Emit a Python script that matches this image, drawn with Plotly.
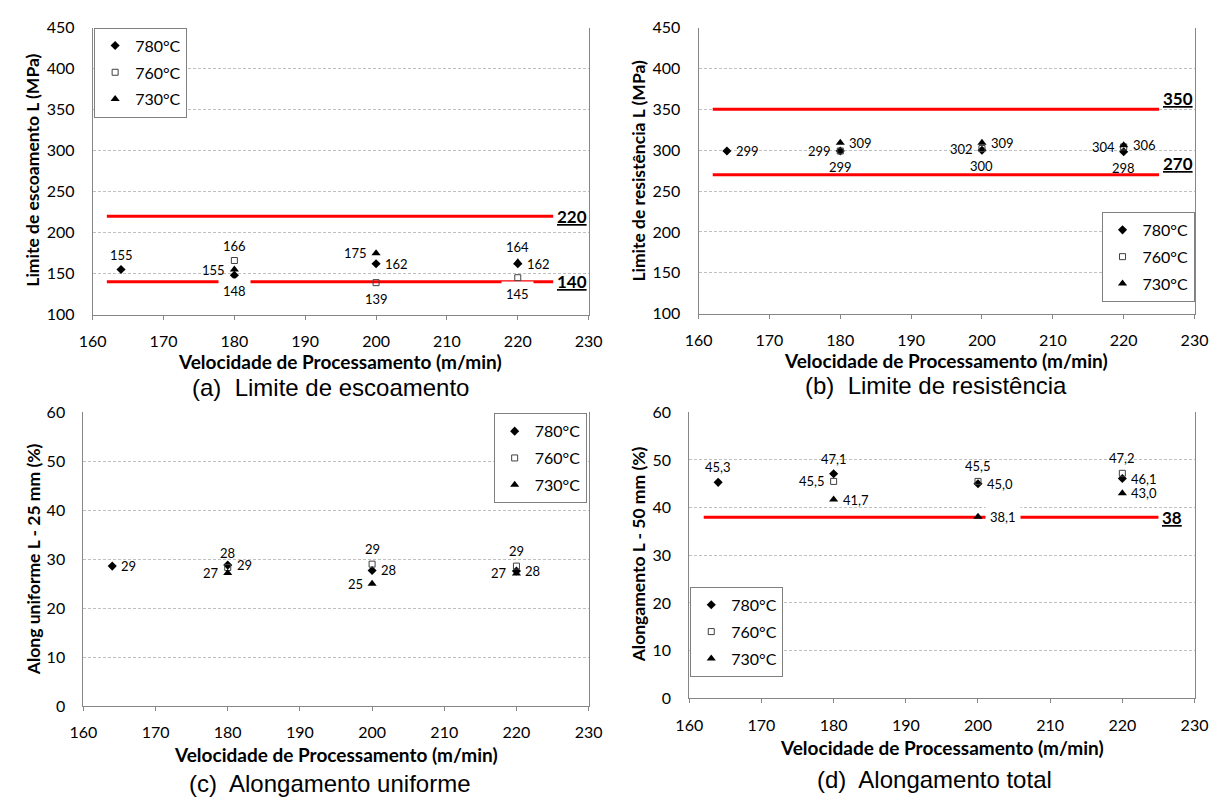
import plotly.graph_objects as go

# ---------------- data ----------------
series_names = ["780°C", "760°C", "730°C"]
speeds_780 = [164, 180, 200, 220]
speeds_others = [180, 200, 220]

# (a) Limite de escoamento (MPa)
le_780 = [155, 148, 162, 162]
le_760 = [166, 139, 145]
le_730 = [155, 175, 164]
le_limits = [220, 140]

# (b) Limite de resistencia (MPa)
lr_780 = [299, 299, 300, 298]
lr_760 = [299, 302, 304]
lr_730 = [309, 309, 306]
lr_limits = [350, 270]

# (c) Alongamento uniforme (%)
au_780 = [28.6, 28.8, 27.7, 27.6]
au_760 = [28.3, 29.0, 28.6]
au_730 = [27.2, 25.0, 27.1]
au_limits = []

# (d) Alongamento total (%)
at_780 = [45.3, 47.1, 45.0, 46.1]
at_760 = [45.5, 45.5, 47.2]
at_730 = [41.7, 38.1, 43.0]
at_limits = [38]

limit_x = [162, 225]
x_ticks = [160, 170, 180, 190, 200, 210, 220, 230]
y_ticks_mpa = [100, 150, 200, 250, 300, 350, 400, 450]
y_ticks_pct = [0, 10, 20, 30, 40, 50, 60]

x_title = "Velocidade de Processamento (m/min)"

# ---------------- styles ----------------
W, H = 1231, 805
FONT = "Lato, 'Open Sans', sans-serif"
CAP_FONT = "'Liberation Sans', Arial, sans-serif"

marker_styles = [
    dict(symbol="diamond", size=7, color="black", line=dict(width=0)),
    dict(symbol="square-open", size=6, color="#404040", line=dict(width=1)),
    dict(symbol="triangle-up", size=8, color="black", line=dict(width=0)),
]


def px_x(p):
    return p / W


def px_y(p):
    return 1 - p / H


def fmt_int(v):
    return f"{v:.0f}"


def fmt_dec(v):
    return f"{v:.1f}".replace(".", ",")


panels = [
    dict(
        id="", series=[le_780, le_760, le_730], fmt=fmt_int,
        limits=le_limits, limit_dy=0,
        xdom=(80.5, 588), ydom=(18, 312), yrange=[100, 450], yticks=y_ticks_mpa,
        ytitle="Limite de escoamento L (MPa)", ytitle_pos=(19, 164),
        xtitle_pos=(334, 360), caption="(a)  Limite de escoamento", cap_pos=(324, 387),
        legend=dict(x=px_x(82), y=px_y(18), xanchor="left", yanchor="top"),
        pos=[["top", "bottom", "right", "right"], ["top", "bottom", "bottom"], ["left", "left", "top"]],
        whitebg=[(0, 1), (1, 2)],
    ),
    dict(
        id="2", series=[lr_780, lr_760, lr_730], fmt=fmt_int,
        limits=lr_limits, limit_dy=11,
        xdom=(700.5, 1208), ydom=(18, 311), yrange=[100, 450], yticks=y_ticks_mpa,
        ytitle="Limite de resistência L (MPa)", ytitle_pos=(639, 164),
        xtitle_pos=(954, 359), caption="(b)  Limite de resistência", cap_pos=(943, 385),
        legend=dict(x=px_x(1208), y=px_y(299), xanchor="right", yanchor="bottom"),
        pos=[["right", "bottom", "bottom", "bottom"], ["left", "left", "left"], ["right", "right", "right"]],
        whitebg=[],
    ),
    dict(
        id="3", series=[au_780, au_760, au_730], fmt=fmt_int,
        limits=au_limits, limit_dy=0,
        xdom=(71, 588), ydom=(412, 713), yrange=[0, 60], yticks=y_ticks_pct,
        ytitle="Along uniforme L - 25 mm (%)", ytitle_pos=(20, 563),
        xtitle_pos=(330, 763), caption="(c)  Alongamento uniforme", cap_pos=(323, 792),
        legend=dict(x=px_x(586), y=px_y(413), xanchor="right", yanchor="top"),
        pos=[["right", "right", "right", "right"], ["top", "top", "top"], ["left", "left", "left"]],
        whitebg=[],
    ),
    dict(
        id="4", series=[at_780, at_760, at_730], fmt=fmt_dec,
        limits=at_limits, limit_dy=0,
        xdom=(691, 1208), ydom=(412, 705), yrange=[0, 60], yticks=y_ticks_pct,
        ytitle="Alongamento L - 50 mm (%)", ytitle_pos=(639, 557),
        xtitle_pos=(950, 755), caption="(d)  Alongamento total", cap_pos=(942, 788),
        legend=dict(x=px_x(692), y=px_y(683), xanchor="left", yanchor="bottom"),
        pos=[["top", "top", "right", "right"], ["left", "top", "top"], ["right", "right", "right"]],
        whitebg=[(2, 1)],
    ),
]

fig = go.Figure()
annotations = []
layout_axes = {}

for k, p in enumerate(panels):
    xa = "x" + p["id"]
    ya = "y" + p["id"]
    leg = "legend" + p["id"]

    # limit lines
    for lim in p["limits"]:
        fig.add_trace(go.Scatter(
            x=limit_x, y=[lim, lim], mode="lines", xaxis=xa, yaxis=ya,
            line=dict(color="#ff0000", width=3), showlegend=False, hoverinfo="skip",
        ))
        annotations.append(dict(
            x=limit_x[1], y=lim, xref=xa, yref=ya, text=f"<b><u>{lim}</u></b>",
            showarrow=False, xanchor="left", yanchor="middle", xshift=2, yshift=p["limit_dy"],
            font=dict(family=FONT, size=17, color="black"),
        ))

    # data series
    for s, (name, vals) in enumerate(zip(series_names, p["series"])):
        xs = speeds_780 if s == 0 else speeds_others
        fig.add_trace(go.Scatter(
            x=xs, y=vals, mode="markers", name=name, xaxis=xa, yaxis=ya,
            marker=marker_styles[s], legend=leg, legendgroup=name + p["id"],
            showlegend=True,
        ))
        for i, (xv, yv) in enumerate(zip(xs, vals)):
            position = p["pos"][s][i]
            a = dict(x=xv, y=yv, xref=xa, yref=ya, text=p["fmt"](yv), showarrow=False,
                     font=dict(family=FONT, size=13, color="black"))
            if position == "top":
                a.update(xanchor="center", yanchor="middle", yshift=15)
            elif position == "bottom":
                a.update(xanchor="center", yanchor="middle", yshift=-16)
            elif position == "right":
                a.update(xanchor="left", yanchor="middle", xshift=7)
            else:
                a.update(xanchor="right", yanchor="middle", xshift=-7)
            if (s, i) in p["whitebg"]:
                a.update(bgcolor="white", borderpad=4)
            annotations.append(a)

    # axes
    layout_axes["xaxis" + p["id"]] = dict(
        domain=[px_x(p["xdom"][0]), px_x(p["xdom"][1])], anchor=ya,
        range=[160, 230], tickvals=x_ticks, showgrid=False, zeroline=False,
        showline=True, linecolor="#868686", linewidth=1,
        ticks="outside", ticklen=4, tickcolor="#868686", ticklabelstandoff=8,
        tickfont=dict(family=FONT, size=16, color="black"),
    )
    layout_axes["yaxis" + p["id"]] = dict(
        domain=[px_y(p["ydom"][1]), px_y(p["ydom"][0])], anchor=xa,
        range=p["yrange"], tickvals=p["yticks"], showgrid=True,
        gridcolor="#bfbfbf", griddash="3px,2px", gridwidth=1, zeroline=False,
        showline=True, mirror=True, linecolor="#868686", linewidth=1,
        ticks="outside", ticklen=14, tickcolor="rgba(0,0,0,0)",
        tickfont=dict(family=FONT, size=16, color="black"),
    )
    layout_axes[leg] = dict(
        **p["legend"], bgcolor="white", bordercolor="#808080", borderwidth=1,
        font=dict(family=FONT, size=16, color="black"), tracegroupgap=3,
        itemwidth=30, itemclick=False, itemdoubleclick=False,
    )

    # titles and caption
    annotations.append(dict(
        x=px_x(p["xtitle_pos"][0]), y=px_y(p["xtitle_pos"][1]), xref="paper", yref="paper",
        text=f"<b>{x_title}</b>", showarrow=False, xanchor="center", yanchor="middle",
        font=dict(family=FONT, size=19, color="black"),
    ))
    annotations.append(dict(
        x=px_x(p["ytitle_pos"][0]), y=px_y(p["ytitle_pos"][1]), xref="paper", yref="paper",
        text=f"<b>{p['ytitle']}</b>", showarrow=False, xanchor="center", yanchor="middle",
        textangle=-90, font=dict(family=FONT, size=17.5, color="black"),
    ))
    annotations.append(dict(
        x=px_x(p["cap_pos"][0]), y=px_y(p["cap_pos"][1]), xref="paper", yref="paper",
        text=p["caption"], showarrow=False, xanchor="center", yanchor="middle",
        font=dict(family=CAP_FONT, size=24, color="black"),
    ))

fig.update_layout(
    width=W, height=H, margin=dict(l=0, r=0, t=0, b=0),
    paper_bgcolor="white", plot_bgcolor="white",
    annotations=annotations, **layout_axes,
)

fig.write_html("out.html", config={"displayModeBar": False},
               post_script="document.body.style.margin='0px';")
